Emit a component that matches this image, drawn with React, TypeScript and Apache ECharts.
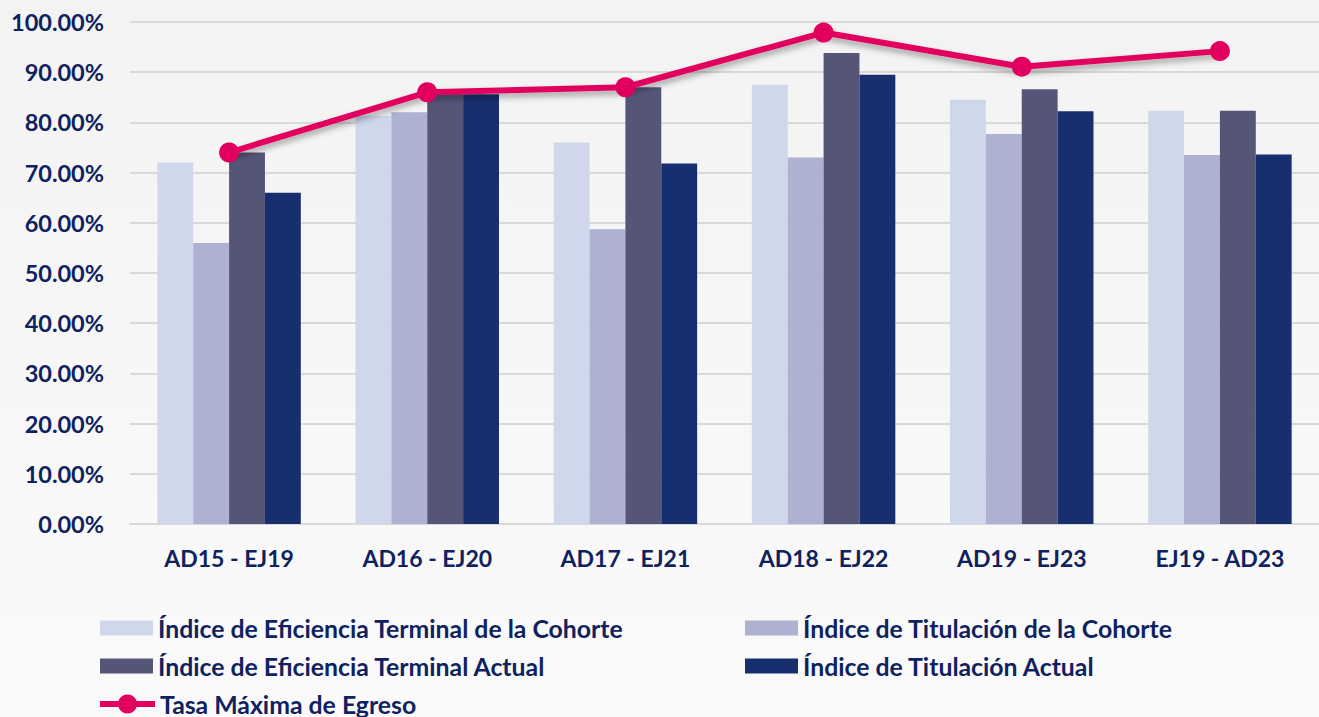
import React, { useEffect, useRef } from "react";
import * as echarts from "echarts";

const categories = ["AD15 - EJ19", "AD16 - EJ20", "AD17 - EJ21", "AD18 - EJ22", "AD19 - EJ23", "EJ19 - AD23"];
const seriesNames = [
  "Índice de Eficiencia Terminal de la Cohorte",
  "Índice de Titulación de la Cohorte",
  "Índice de Eficiencia Terminal Actual",
  "Índice de Titulación Actual",
  "Tasa Máxima de Egreso",
];
const eficienciaCohorte = [72.0, 81.3, 76.0, 87.5, 84.5, 82.3];
const titulacionCohorte = [56.0, 82.0, 58.7, 73.0, 77.7, 73.5];
const eficienciaActual = [74.0, 85.8, 87.0, 93.8, 86.6, 82.3];
const titulacionActual = [66.0, 85.6, 71.8, 89.5, 82.2, 73.6];
const tasaMaxima = [74.0, 86.0, 87.0, 97.9, 91.1, 94.2];

const NAVY = "#0F2260";
const colors = ["#CFD7EA", "#AEB1D1", "#555578", "#172F6E", "#E2005E"];
const FONT = "Lato";

export default function App() {
  const ref = useRef<HTMLDivElement>(null);
  useEffect(() => {
    if (!ref.current) return;
    const chart = echarts.init(ref.current, null, { renderer: "svg" });
    const barValues = [eficienciaCohorte, titulacionCohorte, eficienciaActual, titulacionActual];
    const legendText = { color: NAVY, fontFamily: FONT, fontWeight: "bold" as const, fontSize: 24.8, lineHeight: 26 };
    const legendPos = [
      [100, 615],
      [745, 615],
      [100, 653],
      [745, 653],
      [97, 691],
    ];
    const legends = seriesNames.map((n, i) => ({
      show: true,
      left: legendPos[i][0],
      top: legendPos[i][1],
      padding: 0,
      data: [{ name: n, icon: i < 4 ? "rect" : undefined }],
      itemWidth: i < 4 ? 53 : 55,
      itemHeight: i < 4 ? 15 : 24,
      itemGap: 0,
      textStyle: legendText,
      lineStyle: { width: 6 },
      selectedMode: false,
    }));
    chart.setOption({
      animation: false,
      backgroundColor: {
        type: "linear", x: 0, y: 0, x2: 0, y2: 1,
        colorStops: [
          { offset: 0, color: "#f3f3f3" },
          { offset: 1, color: "#fafafa" },
        ],
      },
      grid: { left: 130, right: -6, top: 22, bottom: 193, containLabel: false },
      legend: legends,
      xAxis: {
        type: "category",
        data: categories,
        axisTick: { show: false },
        axisLine: { lineStyle: { color: "#d9d9d9", width: 2 } },
        axisLabel: { color: NAVY, fontFamily: FONT, fontWeight: "bold", fontSize: 23, margin: 22 },
      },
      yAxis: {
        type: "value",
        min: 0,
        max: 100,
        interval: 10,
        axisLine: { show: false },
        axisTick: { show: false },
        splitLine: { lineStyle: { color: "#d9d9d9", width: 2 } },
        axisLabel: {
          color: NAVY,
          fontFamily: FONT,
          fontWeight: "bold",
          fontSize: 23.5,
          margin: 26,
          formatter: (v: number) => `${v.toFixed(2)}%`,
        },
      },
      series: [
        ...barValues.map((vals, i) => ({
          name: seriesNames[i],
          type: "bar",
          data: vals,
          barGap: "0%",
          barCategoryGap: "27.6%",
          itemStyle: { color: colors[i] },
          z: 2,
        })),
        {
          name: seriesNames[4],
          type: "line",
          data: tasaMaxima,
          symbol: "circle",
          symbolSize: 20,
          z: 5,
          itemStyle: { color: colors[4] },
          lineStyle: {
            color: colors[4],
            width: 6,
            shadowColor: "rgba(0,0,0,0.35)",
            shadowBlur: 6,
            shadowOffsetY: 4,
          },
        },
      ],
    });
    return () => chart.dispose();
  }, []);
  return <div ref={ref} style={{ position: "absolute", left: 0, top: 0, width: 1319, height: 717 }} />;
}
